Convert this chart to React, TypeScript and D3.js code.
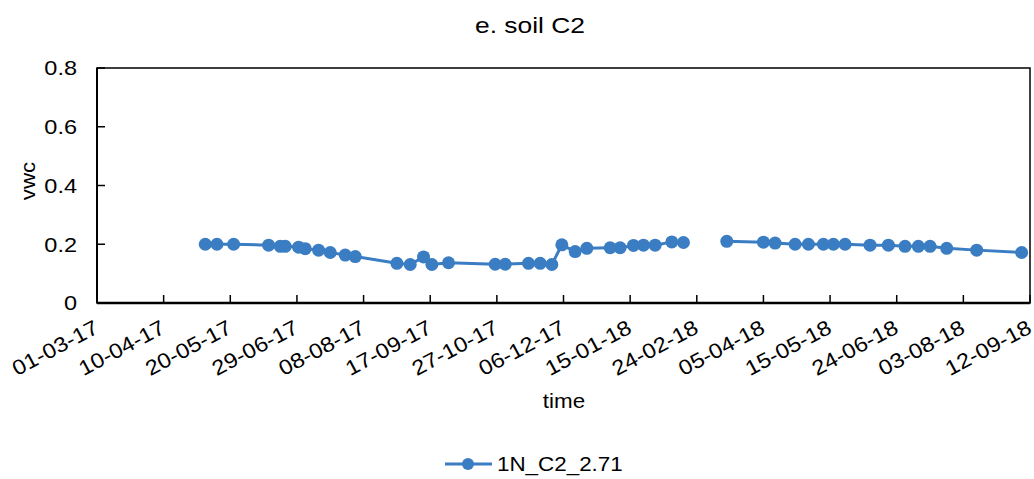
import React from "react";
import * as d3 from "d3";

const seriesName = "1N_C2_2.71";
const dates: string[] = [
  "2017-05-05", "2017-05-12", "2017-05-22", "2017-06-12", "2017-06-19", "2017-06-22",
  "2017-06-30", "2017-07-04", "2017-07-12", "2017-07-19", "2017-07-28", "2017-08-03",
  "2017-08-28", "2017-09-05", "2017-09-13", "2017-09-18", "2017-09-28", "2017-10-26",
  "2017-11-01", "2017-11-15", "2017-11-22", "2017-11-29", "2017-12-05", "2017-12-13",
  "2017-12-20", "2018-01-03", "2018-01-09", "2018-01-17", "2018-01-23", "2018-01-30",
  "2018-02-09", "2018-02-16", "2018-03-01", "2018-03-14", "2018-04-05", "2018-04-12",
  "2018-04-24", "2018-05-02", "2018-05-11", "2018-05-17", "2018-05-24", "2018-06-08",
  "2018-06-19", "2018-06-29", "2018-07-07", "2018-07-14", "2018-07-24", "2018-08-11",
  "2018-09-07",
];
const vwc: (number | null)[] = [
  0.200, 0.200, 0.200, 0.197, 0.193, 0.193,
  0.190, 0.185, 0.180, 0.172, 0.163, 0.158,
  0.135, 0.131, 0.157, 0.131, 0.137, 0.132,
  0.132, 0.135, 0.135, 0.131, 0.198, 0.175,
  0.186, 0.188, 0.188, 0.196, 0.197, 0.197,
  0.208, 0.206, null, 0.210, 0.207, 0.204,
  0.200, 0.200, 0.200, 0.200, 0.200, 0.197,
  0.197, 0.193, 0.193, 0.193, 0.186, 0.180,
  0.172,
];
const xTickLabels: string[] = [
  "01-03-17", "10-04-17", "20-05-17", "29-06-17", "08-08-17", "17-09-17", "27-10-17",
  "06-12-17", "15-01-18", "24-02-18", "05-04-18", "15-05-18", "24-06-18", "03-08-18", "12-09-18",
];
const yTicks: number[] = [0, 0.2, 0.4, 0.6, 0.8];

const W = 1034;
const H = 479;
const M = { left: 97, right: 1030, top: 68, bottom: 303 };
const COLOR = "#3a7dc3";
const FONT = "Arial, 'Liberation Sans', sans-serif";
const SX = 1.12;

const parse = d3.utcParse("%Y-%m-%d");
const parseTick = d3.utcParse("%d-%m-%y");

export default function App() {
  const x = d3
    .scaleUtc()
    .domain([parseTick(xTickLabels[0])!, parseTick(xTickLabels[xTickLabels.length - 1])!])
    .range([M.left, M.right]);
  const y = d3.scaleLinear().domain([0, 0.8]).range([M.bottom, M.top]);

  const pts = dates.map((d, i) => ({ date: parse(d)!, v: vwc[i] }));
  const line = d3
    .line<{ date: Date; v: number | null }>()
    .defined((d) => d.v !== null)
    .x((d) => x(d.date))
    .y((d) => y(d.v as number));

  return (
    <svg width={W} height={H} style={{ position: "absolute", left: 0, top: 0, fontFamily: FONT }}>
      <rect x={0} y={0} width={W} height={H} fill="#fff" />
      <text transform={`translate(530,33) scale(1.2,1)`} textAnchor="middle" fontSize={22} fill="#000">
        e. soil C2
      </text>
      {/* plot frame */}
      <rect x={M.left} y={M.top} width={M.right - M.left} height={M.bottom - M.top} fill="none" stroke="#000" strokeWidth={1.5} />
      <line x1={M.left} x2={M.left} y1={M.top} y2={M.bottom} stroke="#000" strokeWidth={2} />
      <line x1={M.left} x2={M.right} y1={M.bottom} y2={M.bottom} stroke="#000" strokeWidth={2.5} />
      {yTicks.map((t) => (
        <g key={t}>
          <line x1={M.left} x2={M.left + 8} y1={y(t)} y2={y(t)} stroke="#000" strokeWidth={1.5} />
          <text
            transform={`translate(77,${y(t)}) scale(${SX},1)`}
            dy="0.35em"
            textAnchor="end"
            fontSize={21}
            fill="#000"
          >
            {t === 0 ? "0" : t.toFixed(1)}
          </text>
        </g>
      ))}
      {xTickLabels.map((lab) => {
        const px = x(parseTick(lab)!);
        return (
          <g key={lab}>
            <line x1={px} x2={px} y1={M.bottom} y2={M.bottom - 8} stroke="#000" strokeWidth={1.5} />
            <text
              transform={`translate(${px + 3},${M.bottom + 29}) rotate(-28) scale(${SX},1)`}
              textAnchor="end"
              fontSize={21}
              fill="#000"
            >
              {lab}
            </text>
          </g>
        );
      })}
      <text transform={`translate(564,408) scale(${SX},1)`} textAnchor="middle" fontSize={20} fill="#000">
        time
      </text>
      <text transform={`translate(35,181) rotate(-90) scale(${SX},1)`} textAnchor="middle" fontSize={20} fill="#000">
        vwc
      </text>
      <path d={line(pts) ?? ""} fill="none" stroke={COLOR} strokeWidth={3} />
      {pts
        .filter((p) => p.v !== null)
        .map((p, i) => (
          <circle key={i} cx={x(p.date)} cy={y(p.v as number)} r={6.5} fill={COLOR} />
        ))}
      {/* legend */}
      <line x1={445} x2={492} y1={464} y2={464} stroke={COLOR} strokeWidth={3} />
      <circle cx={468} cy={464} r={6} fill={COLOR} />
      <text transform={`translate(497,471) scale(${SX},1)`} fontSize={20} fill="#000">
        {seriesName}
      </text>
    </svg>
  );
}
